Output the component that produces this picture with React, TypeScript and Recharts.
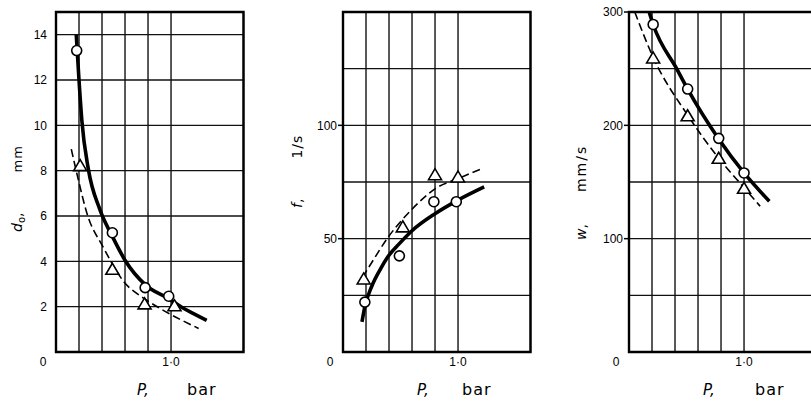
import {
  ComposedChart,
  Line,
  Scatter,
  XAxis,
  YAxis,
  CartesianGrid,
  ReferenceArea,
} from "recharts";

// shared pressure axis (bar)
const P_MAX = 1.63;
const P_TICKS = [0, 0.2, 0.4, 0.6, 0.8, 1.0, P_MAX];

// d0, mm
const D_TICKS = [0, 2, 4, 6, 8, 10, 12, 14, 15];
const D_LABELS = [2, 4, 6, 8, 10, 12, 14];
const D_SOLID_P = [0.176, 0.2, 0.225, 0.28, 0.38, 0.49, 0.6, 0.78, 0.98, 1.1, 1.2, 1.31];
const D_SOLID = [14.0, 12.0, 10.2, 8.1, 6.3, 5.1, 4.05, 2.95, 2.35, 1.95, 1.68, 1.4];
const D_DASH_P = [0.133, 0.196, 0.27, 0.41, 0.59, 0.77, 0.905, 1.24];
const D_DASH = [8.95, 7.56, 6.1, 4.63, 3.1, 2.35, 1.92, 1.04];
const D_CIRCLE_P = [0.18, 0.49, 0.775, 0.98];
const D_CIRCLE = [13.3, 5.26, 2.84, 2.46];
const D_TRI_P = [0.21, 0.49, 0.77, 1.03];
const D_TRI = [8.2, 3.63, 2.1, 2.02];

// f, 1/s
const F_TICKS = [0, 25, 50, 75, 100, 125, 150];
const F_LABELS = [50, 100];
const F_SOLID_P = [0.165, 0.19, 0.25, 0.33, 0.39, 0.49, 0.6, 0.8, 1.0, 1.227];
const F_SOLID = [13.3, 20, 29, 37, 42, 47.8, 53.5, 61, 67, 72.8];
const F_DASH_P = [0.17, 0.25, 0.39, 0.5, 0.6, 0.8, 1.0, 1.2];
const F_DASH = [33, 39.5, 50.5, 57.5, 63, 72, 76.5, 80.7];
const F_CIRCLE_P = [0.19, 0.49, 0.79, 0.985];
const F_CIRCLE = [22, 42.4, 66.3, 66.3];
const F_TRI_P = [0.18, 0.52, 0.8, 1.0];
const F_TRI = [32, 55, 78, 77];

// w, mm/s
const W_TICKS = [0, 50, 100, 150, 200, 250, 300];
const W_LABELS = [100, 200, 300];
const W_SOLID_P = [0.175, 0.21, 0.42, 0.51, 0.78, 1.0, 1.22];
const W_SOLID = [300, 289, 249, 232, 188, 158, 133];
const W_DASH_P = [0.05, 0.21, 0.51, 0.78, 1.0, 1.14];
const W_DASH = [300, 260, 209, 171, 145, 128.6];
const W_MARK_P = [0.21, 0.51, 0.78, 1.0];
const W_CIRCLE = [289, 232, 188.5, 158];
const W_TRI = [259, 208, 170.5, 144];

const zip = (xs: number[], ys: number[]) => xs.map((x, i) => ({ x, y: ys[i] }));

const TICK_FONT = "'Liberation Sans', Arial, sans-serif";
const TITLE_FONT = "'DejaVu Sans', sans-serif";
const PLOT_W = 187.5;

const CircleMark = (p: any) => (
  <circle cx={p.cx} cy={p.cy} r={5} fill="#fff" stroke="#000" strokeWidth={1.6} />
);

const TriMark = (p: any) => (
  <polygon
    points={`${p.cx},${p.cy - 6.5} ${p.cx - 6.5},${p.cy + 4.5} ${p.cx + 6.5},${p.cy + 4.5}`}
    fill="#fff"
    stroke="#000"
    strokeWidth={1.6}
  />
);

const XTick = (props: any) => {
  const { x, y, payload } = props;
  let text = "";
  let dx = 0;
  if (payload.value === 0) {
    text = "0";
    dx = -13;
  } else if (payload.value === 1) {
    text = "1·0";
  }
  if (!text) return <g />;
  return (
    <text x={x + dx} y={y} dy="0.71em" textAnchor="middle" fontSize={12} fontFamily={TICK_FONT} fill="#000">
      {text}
    </text>
  );
};

// labelled y ticks only; short tick mark drawn for the panels that have one
const makeYTick = (labels: number[], mark: boolean) => (props: any) => {
  const { x, y, payload } = props;
  if (!labels.includes(payload.value)) return <g />;
  return (
    <g>
      {mark && <line x1={x + 1} x2={x + 6} y1={y} y2={y} stroke="#000" strokeWidth={1.5} />}
      <text x={x} y={y} dy="0.36em" textAnchor="end" fontSize={12} fontFamily={TICK_FONT} fill="#000">
        {payload.value}
      </text>
    </g>
  );
};

interface PanelProps {
  left: number;
  width: number;
  axisW: number;
  yMax: number;
  yTicks: number[];
  yLabels: number[];
  tickMark: boolean;
  tickMargin: number;
  solid: { x: number; y: number }[];
  dashed: { x: number; y: number }[];
  circles: { x: number; y: number }[];
  triangles: { x: number; y: number }[];
}

function Panel(p: PanelProps) {
  return (
    <div style={{ position: "absolute", left: p.left, top: 0 }}>
      <ComposedChart
        width={p.width}
        height={402}
        margin={{ top: 12, right: p.width - p.axisW - PLOT_W, bottom: 20, left: 0 }}
      >
        <CartesianGrid stroke="#111" strokeWidth={1.4} />
        <XAxis
          dataKey="x"
          type="number"
          domain={[0, P_MAX]}
          ticks={P_TICKS}
          interval={0}
          allowDataOverflow
          height={30}
          axisLine={false}
          tickLine={false}
          tickSize={0}
          tickMargin={5}
          tick={<XTick />}
        />
        <YAxis
          dataKey="y"
          type="number"
          domain={[0, p.yMax]}
          ticks={p.yTicks}
          interval={0}
          allowDataOverflow
          width={p.axisW}
          axisLine={false}
          tickLine={false}
          tickSize={5}
          tickMargin={p.tickMargin}
          tick={makeYTick(p.yLabels, p.tickMark)}
        />
        <ReferenceArea
          x1={0}
          x2={P_MAX}
          y1={0}
          y2={p.yMax}
          fill="none"
          fillOpacity={0}
          stroke="#000"
          strokeWidth={2.4}
          ifOverflow="visible"
        />
        <Line
          data={p.dashed}
          dataKey="y"
          type="monotone"
          stroke="#000"
          strokeWidth={1.6}
          strokeDasharray="8 4"
          dot={false}
          activeDot={false}
          isAnimationActive={false}
        />
        <Line
          data={p.solid}
          dataKey="y"
          type="monotone"
          stroke="#000"
          strokeWidth={3.6}
          dot={false}
          activeDot={false}
          isAnimationActive={false}
        />
        <Scatter data={p.triangles} dataKey="y" shape={TriMark} isAnimationActive={false} />
        <Scatter data={p.circles} dataKey="y" shape={CircleMark} isAnimationActive={false} />
      </ComposedChart>
    </div>
  );
}

function YTitle({ x, y, main, sub, unit, gap, unitSize, spacing }: any) {
  return (
    <text
      transform={`translate(${x},${y}) rotate(-90)`}
      textAnchor="start"
      fontFamily={TITLE_FONT}
      fontSize={14}
      fill="#000"
    >
      <tspan fontStyle="italic">{main}</tspan>
      {sub ? (
        <tspan fontSize={10} dy={3}>
          {sub}
        </tspan>
      ) : null}
      <tspan dy={sub ? -3 : 0}>,</tspan>
      <tspan dx={gap} fontSize={unitSize} letterSpacing={spacing}>
        {unit}
      </tspan>
    </text>
  );
}

function XTitle({ x, barX }: { x: number; barX: number }) {
  return (
    <g fontFamily={TITLE_FONT} fill="#000">
      <text x={x} y={395} fontSize={15} fontStyle="italic">
        P,
      </text>
      <text x={barX} y={395} fontSize={16} letterSpacing={1}>
        bar
      </text>
    </g>
  );
}

export default function App() {
  return (
    <div
      style={{
        position: "absolute",
        left: 0,
        top: 0,
        width: 811,
        height: 402,
        overflow: "hidden",
        background: "#fff",
      }}
    >
      <Panel
        left={0}
        width={260}
        axisW={56}
        yMax={15}
        yTicks={D_TICKS}
        yLabels={D_LABELS}
        tickMark={false}
        tickMargin={4}
        solid={zip(D_SOLID_P, D_SOLID)}
        dashed={zip(D_DASH_P, D_DASH)}
        circles={zip(D_CIRCLE_P, D_CIRCLE)}
        triangles={zip(D_TRI_P, D_TRI)}
      />
      <Panel
        left={270}
        width={280}
        axisW={73}
        yMax={150}
        yTicks={F_TICKS}
        yLabels={F_LABELS}
        tickMark={true}
        tickMargin={1}
        solid={zip(F_SOLID_P, F_SOLID)}
        dashed={zip(F_DASH_P, F_DASH)}
        circles={zip(F_CIRCLE_P, F_CIRCLE)}
        triangles={zip(F_TRI_P, F_TRI)}
      />
      <Panel
        left={540}
        width={290}
        axisW={89}
        yMax={300}
        yTicks={W_TICKS}
        yLabels={W_LABELS}
        tickMark={true}
        tickMargin={1}
        solid={zip(W_SOLID_P, W_SOLID)}
        dashed={zip(W_DASH_P, W_DASH)}
        circles={zip(W_MARK_P, W_CIRCLE)}
        triangles={zip(W_MARK_P, W_TRI)}
      />
      <svg
        width={811}
        height={402}
        style={{ position: "absolute", left: 0, top: 0, pointerEvents: "none" }}
      >
        <YTitle x={22} y={232} main="d" sub="o" unit="mm" gap={40} unitSize={13} spacing={1} />
        <YTitle x={302} y={208} main="f" unit="1/s" gap={40} unitSize={14} spacing={1} />
        <YTitle x={586} y={240} main="w" unit="mm/s" gap={32} unitSize={14} spacing={2} />
        <XTitle x={137} barX={187} />
        <XTitle x={417} barX={462} />
        <XTitle x={703} barX={755} />
      </svg>
    </div>
  );
}
